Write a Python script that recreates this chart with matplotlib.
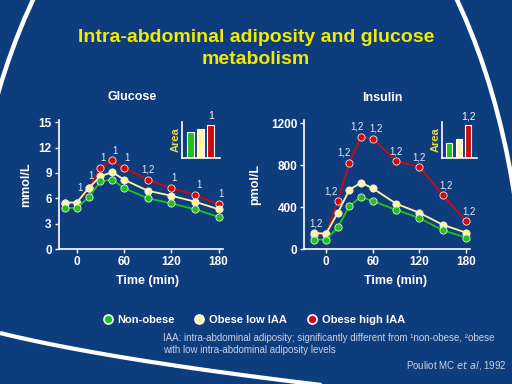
import numpy as np
import matplotlib
matplotlib.use("Agg")
import matplotlib.pyplot as plt
from matplotlib.lines import Line2D
from matplotlib.patches import Ellipse

plt.rcParams["font.family"] = ["Liberation Sans", "DejaVu Sans"]

# data
time_min = [-15, 0, 15, 30, 45, 60, 90, 120, 150, 180]
groups = ["Non-obese", "Obese low IAA", "Obese high IAA"]

glucose_non_obese = [4.8, 4.9, 6.1, 8.0, 8.2, 7.2, 6.0, 5.4, 4.7, 3.8]
glucose_low_iaa = [5.5, 5.5, 7.2, 8.6, 9.1, 8.2, 6.9, 6.3, 5.6, 4.7]
glucose_high_iaa = [5.5, 5.4, 7.2, 9.6, 10.5, 9.6, 8.2, 7.2, 6.4, 5.3]
glucose_sig = ["", "1", "1", "1", "1", "1", "1,2", "1", "1", "1"]
glucose_area = [78, 90, 102]
glucose_area_sig = "1"

insulin_non_obese = [93, 93, 208, 412, 499, 459, 375, 298, 180, 112]
insulin_low_iaa = [155, 149, 347, 567, 633, 580, 434, 347, 233, 158]
insulin_high_iaa = [140, 145, 459, 825, 1073, 1054, 837, 784, 515, 267]
insulin_sig = ["1,2", "", "1,2", "1,2", "1,2", "1,2", "1,2", "1,2", "1,2", "1,2"]
insulin_area = [45, 57, 100]
insulin_area_sig = "1,2"

BG = "#0e3d7d"
WHITE = "white"
GREEN = "#1fc21a"
YELLOW = "#fff7a6"
RED = "#d00a0a"
TITLE_YELLOW = "#f2ea00"
AREA_YELLOW = "#e9d84a"
NOTE = "#c9d2e3"
colors = [GREEN, YELLOW, RED]

W, H = 512, 384
fig = plt.figure(figsize=(5.12, 3.84), dpi=100, facecolor=BG)


def box(left, top, right, bottom):
    # pixel box -> figure fraction rect
    return [left / W, 1 - bottom / H, (right - left) / W, (bottom - top) / H]


# background swooshes
bg = fig.add_axes([0, 0, 1, 1], zorder=-5)
bg.set_xlim(0, W)
bg.set_ylim(H, 0)
bg.axis("off")
bg.add_patch(Ellipse((245, 335), 560, 1026, fill=False, ec=WHITE, lw=3.2))
# quadratic bezier for the lower swoosh
p0, p1, p2 = np.array([0, 333]), np.array([110, 360]), np.array([330, 386])
s = np.linspace(0, 1, 60)[:, None]
curve = (1 - s) ** 2 * p0 + 2 * (1 - s) * s * p1 + s ** 2 * p2
bg.plot(curve[:, 0], curve[:, 1], color=WHITE, lw=3.0, solid_capstyle="butt")

fig.text(0.5, 1 - 37 / H, "Intra-abdominal adiposity and glucose", ha="center", va="center",
         color=TITLE_YELLOW, fontsize=14, fontweight="bold")
fig.text(0.5, 1 - 60 / H, "metabolism", ha="center", va="center",
         color=TITLE_YELLOW, fontsize=14, fontweight="bold")


def style_axes(ax):
    ax.set_facecolor("none")
    for side in ["top", "right"]:
        ax.spines[side].set_visible(False)
    for side in ["left", "bottom"]:
        ax.spines[side].set_color(WHITE)
        ax.spines[side].set_linewidth(1.2)
    ax.tick_params(colors=WHITE, width=1, length=3, labelsize=8.5, pad=2)


def curves(ax, series, sig, offsets):
    for vals, c in zip(series[::-1], colors[::-1]):
        ax.plot(time_min, vals, color=c, lw=1.3, marker="o", ms=5.2,
                mfc=c, mec="#f3e6e6", mew=0.6, clip_on=False)
    top = series[2]
    for t, v, lab, (dx, dy) in zip(time_min, top, sig, offsets):
        if lab:
            ax.annotate(lab, (t, v), xytext=(dx, dy), textcoords="offset points",
                        ha="center", va="center", color="#e6ebf4", fontsize=7)


def area_inset(rect, vals, sig):
    ax = fig.add_axes(rect)
    ax.set_facecolor("none")
    ax.bar(range(3), vals, width=0.68, color=colors, edgecolor=WHITE, lw=0.8)
    ax.set_xlim(-0.8, 2.9)
    ax.set_ylim(0, 110)
    ax.set_xticks([])
    ax.set_yticks([])
    for side in ["top", "right"]:
        ax.spines[side].set_visible(False)
    for side in ["left", "bottom"]:
        ax.spines[side].set_color(WHITE)
        ax.spines[side].set_linewidth(1.2)
    ax.set_ylabel("Area", color=AREA_YELLOW, fontsize=8, fontweight="bold", labelpad=1)
    ax.annotate(sig, (2, vals[2]), xytext=(0, 6), textcoords="offset points",
                ha="center", va="center", color=WHITE, fontsize=7.5)
    return ax


# glucose panel
ax1 = fig.add_axes(box(58.7, 119.7, 222.5, 249))
style_axes(ax1)
ax1.set_xlim(-23, 185)
ax1.set_ylim(0, 15.3)
ax1.set_xticks([0, 60, 120, 180])
ax1.set_yticks([0, 3, 6, 9, 12, 15])
for lab in ax1.get_xticklabels() + ax1.get_yticklabels():
    lab.set_fontweight("bold")
curves(ax1, [glucose_non_obese, glucose_low_iaa, glucose_high_iaa], glucose_sig,
       [(0, 0), (2, 11), (2, 9), (2, 7), (2, 7), (2, 7), (0, 7), (2, 7), (3, 7), (2, 7)])
ax1.set_title("Glucose", color=WHITE, fontsize=9, fontweight="bold", pad=14, x=0.45)
ax1.set_ylabel("mmol/L", color=WHITE, fontsize=9, fontweight="bold")
ax1.yaxis.set_label_coords(-0.163, 0.5)
ax1.set_xlabel("Time (min)", color=WHITE, fontsize=9, fontweight="bold", labelpad=1)
ax1.xaxis.set_label_coords(0.54, -0.2)
area_inset(box(182, 122, 220, 158), glucose_area, glucose_area_sig)

# insulin panel
ax2 = fig.add_axes(box(304.3, 120, 470, 249.3))
style_axes(ax2)
ax2.set_xlim(-28, 185)
ax2.set_ylim(0, 1230)
ax2.set_xticks([0, 60, 120, 180])
ax2.set_yticks([0, 400, 800, 1200])
for lab in ax2.get_xticklabels() + ax2.get_yticklabels():
    lab.set_fontweight("bold")
curves(ax2, [insulin_non_obese, insulin_low_iaa, insulin_high_iaa], insulin_sig,
       [(1, 8), (0, 0), (-5, 7), (-4, 7), (-3, 7), (2, 7), (0, 7), (0, 7), (2, 7), (2, 7)])
ax2.set_title("Insulin", color=WHITE, fontsize=9, fontweight="bold", pad=14, x=0.47)
ax2.set_ylabel("pmol/L", color=WHITE, fontsize=9, fontweight="bold")
ax2.yaxis.set_label_coords(-0.26, 0.5)
ax2.set_xlabel("Time (min)", color=WHITE, fontsize=9, fontweight="bold", labelpad=1)
ax2.xaxis.set_label_coords(0.55, -0.2)
area_inset(box(441.7, 121.7, 476.7, 158.3), insulin_area, insulin_area_sig)

# legend
handles = [Line2D([], [], ls="none", marker="o", ms=6.5, mfc=c, mec=WHITE, mew=1.2)
           for c in colors]
leg = fig.legend(handles, groups, loc="center", bbox_to_anchor=(254 / W, 1 - 320 / H),
                 ncol=3, frameon=False, handlelength=0.8, handletextpad=0.5,
                 columnspacing=1.8, prop={"weight": "bold", "size": 8})
for txt in leg.get_texts():
    txt.set_color(WHITE)

# footnote
fig.text(163 / W, 1 - 338 / H,
         "IAA: intra-abdominal adiposity; significantly different from \u00b9non-obese, \u00b2obese",
         ha="left", va="center", color=NOTE, fontsize=7)
fig.text(163 / W, 1 - 350 / H, "with low intra-abdominal adiposity levels",
         ha="left", va="center", color=NOTE, fontsize=7)
fig.text(507 / W, 1 - 365 / H, r"Pouliot MC $\it{et\ al}$, 1992",
         ha="right", va="center", color=NOTE, fontsize=7)

fig.savefig("out.png", dpi=100, facecolor=BG)
